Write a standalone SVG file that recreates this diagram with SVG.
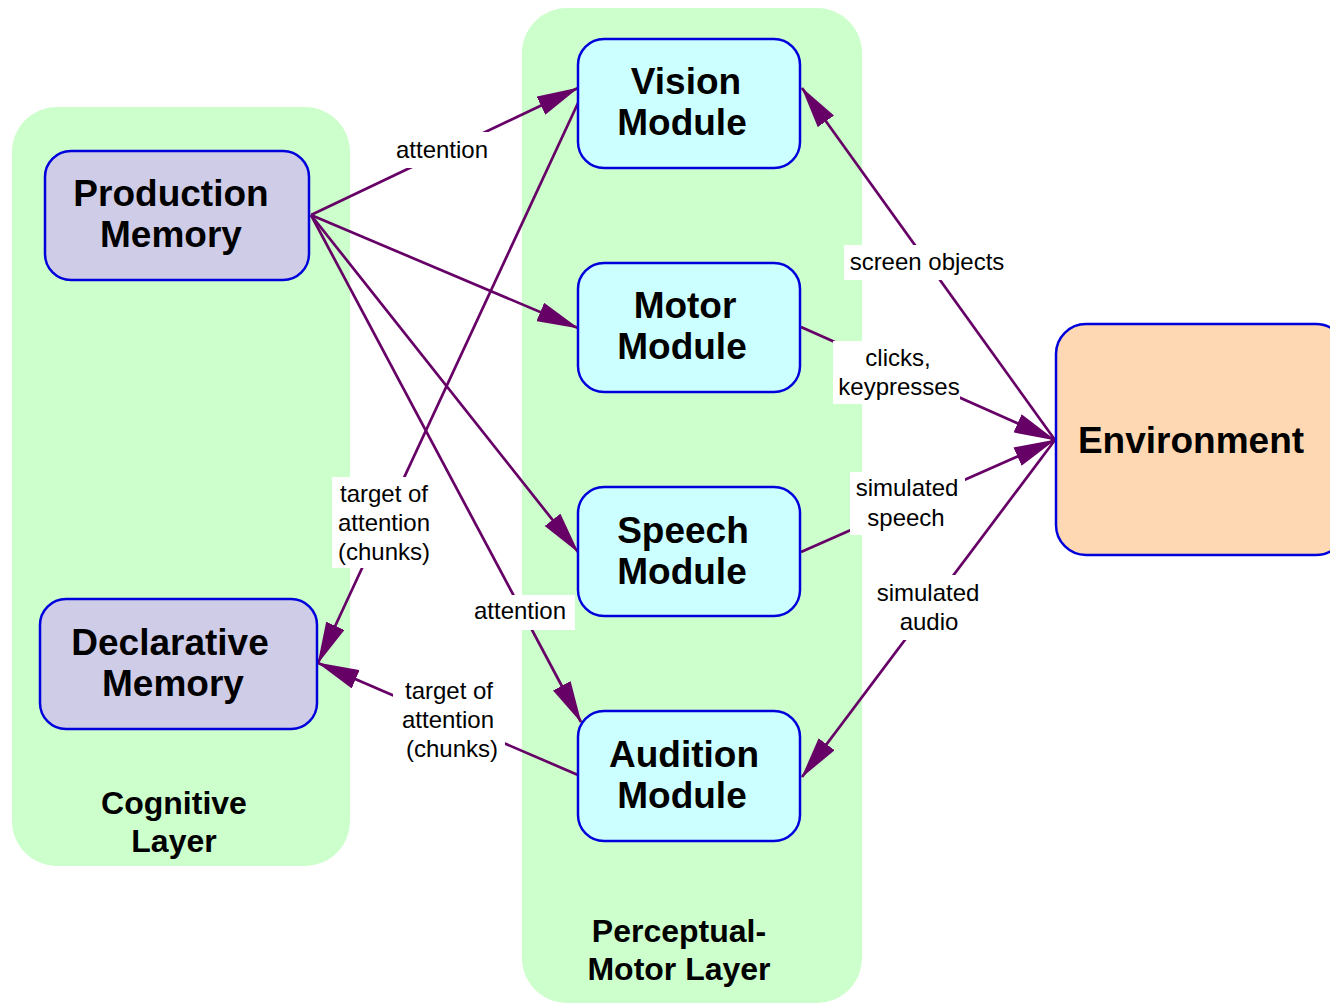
<svg xmlns="http://www.w3.org/2000/svg" width="1330" height="1005" viewBox="0 0 1330 1005">
  <style>
    .layer { fill: #ccffcc; }
    .node { stroke: #0000dd; stroke-width: 2.5; }
    .mem { fill: #cfcce8; }
    .mod { fill: #ccffff; }
    .env { fill: #fed8b2; }
    .title { font-family: "Liberation Sans", Arial, sans-serif; font-weight: bold; font-size: 37px; fill: #000; text-anchor: middle; }
    .layertitle { font-family: "Liberation Sans", Arial, sans-serif; font-weight: bold; font-size: 32px; fill: #000; text-anchor: middle; }
    .edge { stroke: #660066; stroke-width: 2.7; fill: none; marker-end: url(#head); }
    .lbl { font-family: "Liberation Sans", Arial, sans-serif; font-size: 24px; fill: #000; text-anchor: middle; }
    .lblbg { fill: #ffffff; }
  </style>
  <defs>
    <marker id="head" viewBox="0 0 42 20" refX="41" refY="10" markerWidth="42" markerHeight="20" markerUnits="userSpaceOnUse" orient="auto">
      <path d="M0,0 L42,10 L0,20 z" fill="#660066"/>
    </marker>
  </defs>

  <!-- layer backgrounds -->
  <g id="cognitive-layer">
    <rect class="layer" x="12" y="107" width="338" height="759" rx="45"/>
    <text class="layertitle" x="174" y="814">Cognitive</text>
    <text class="layertitle" x="174" y="852">Layer</text>
  </g>
  <g id="perceptual-motor-layer">
    <rect class="layer" x="522" y="8" width="340" height="995" rx="45"/>
    <text class="layertitle" x="679" y="942">Perceptual-</text>
    <text class="layertitle" x="679" y="980">Motor Layer</text>
  </g>

  <!-- connectors -->
  <g id="connectors">
    <line class="edge" x1="311" y1="215" x2="578" y2="88"/>
    <line class="edge" x1="311" y1="215" x2="578" y2="328"/>
    <line class="edge" x1="311" y1="215" x2="578" y2="552"/>
    <line class="edge" x1="311" y1="215" x2="581" y2="722"/>
    <line class="edge" x1="578" y1="103" x2="318" y2="663"/>
    <line class="edge" x1="578" y1="775" x2="318" y2="663"/>
    <line class="edge" x1="1055" y1="440" x2="802" y2="88"/>
    <line class="edge" x1="801" y1="327" x2="1055" y2="440"/>
    <line class="edge" x1="801" y1="552" x2="1055" y2="440"/>
    <line class="edge" x1="1055" y1="440" x2="802" y2="777"/>

    <!-- connector labels -->
    <rect class="lblbg" x="395" y="132" width="95" height="36"/>
    <text class="lbl" x="442" y="158">attention</text>

    <rect class="lblbg" x="468" y="595" width="107" height="35"/>
    <text class="lbl" x="520" y="619">attention</text>

    <rect class="lblbg" x="332" y="477" width="101" height="91"/>
    <text class="lbl" x="384" y="502">target of</text>
    <text class="lbl" x="384" y="531">attention</text>
    <text class="lbl" x="384" y="560">(chunks)</text>

    <rect class="lblbg" x="393" y="676" width="112" height="88"/>
    <text class="lbl" x="449" y="699">target of</text>
    <text class="lbl" x="448" y="728">attention</text>
    <text class="lbl" x="452" y="757">(chunks)</text>

    <rect class="lblbg" x="844" y="245" width="160" height="35"/>
    <text class="lbl" x="927" y="270">screen objects</text>

    <rect class="lblbg" x="833" y="341" width="127" height="63"/>
    <text class="lbl" x="898" y="366">clicks,</text>
    <text class="lbl" x="899" y="395">keypresses</text>

    <rect class="lblbg" x="850" y="472" width="115" height="63"/>
    <text class="lbl" x="907" y="496">simulated</text>
    <text class="lbl" x="906" y="526">speech</text>

    <rect class="lblbg" x="873" y="575" width="107" height="65"/>
    <text class="lbl" x="928" y="601">simulated</text>
    <text class="lbl" x="929" y="630">audio</text>
  </g>

  <!-- nodes -->
  <g id="production-memory">
    <rect class="node mem" x="45" y="151" width="264" height="129" rx="26"/>
    <text class="title" x="171" y="206">Production</text>
    <text class="title" x="171" y="247">Memory</text>
  </g>
  <g id="declarative-memory">
    <rect class="node mem" x="40" y="599" width="277" height="130" rx="26"/>
    <text class="title" x="170" y="655">Declarative</text>
    <text class="title" x="173" y="696">Memory</text>
  </g>
  <g id="vision-module">
    <rect class="node mod" x="578" y="39" width="222" height="129" rx="26"/>
    <text class="title" x="686" y="94">Vision</text>
    <text class="title" x="682" y="135">Module</text>
  </g>
  <g id="motor-module">
    <rect class="node mod" x="578" y="263" width="222" height="129" rx="26"/>
    <text class="title" x="685" y="318">Motor</text>
    <text class="title" x="682" y="359">Module</text>
  </g>
  <g id="speech-module">
    <rect class="node mod" x="578" y="487" width="222" height="129" rx="26"/>
    <text class="title" x="683" y="543">Speech</text>
    <text class="title" x="682" y="584">Module</text>
  </g>
  <g id="audition-module">
    <rect class="node mod" x="578" y="711" width="222" height="130" rx="26"/>
    <text class="title" x="684" y="767">Audition</text>
    <text class="title" x="682" y="808">Module</text>
  </g>
  <g id="environment">
    <rect class="node env" x="1056" y="324" width="290" height="231" rx="30"/>
    <text class="title" x="1191" y="453">Environment</text>
  </g>
</svg>
